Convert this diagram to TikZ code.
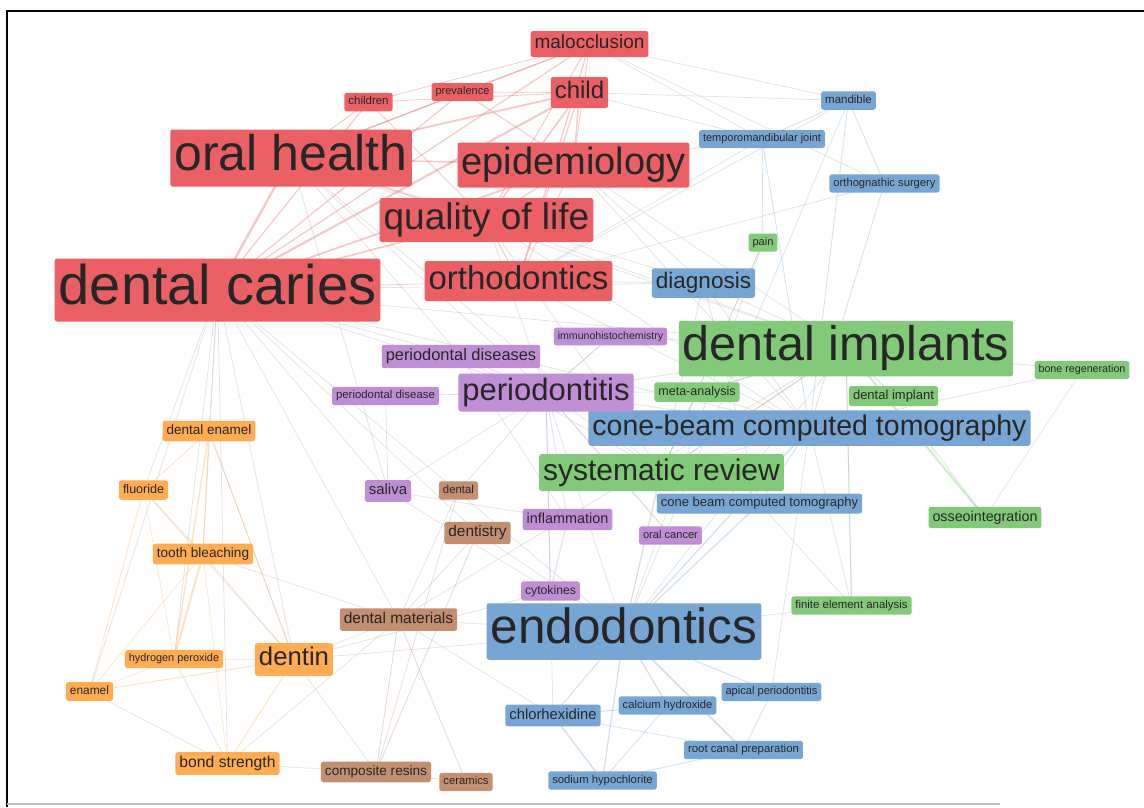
\documentclass[tikz,border=0pt]{standalone}
\usepackage{fontspec}
\setmainfont{Liberation Sans}
\usepackage{tikz}
\pgfdeclarelayer{bg}
\pgfsetlayers{bg,main}
\definecolor{kwred}{RGB}{234,96,100}
\definecolor{kwblue}{RGB}{120,166,212}
\definecolor{kwgreen}{RGB}{130,201,122}
\definecolor{kwpurple}{RGB}{192,142,212}
\definecolor{kworange}{RGB}{255,172,82}
\definecolor{kwbrown}{RGB}{196,142,112}
\newcommand{\kwsize}[1]{\fontsize{#1}{#1}\selectfont}

\begin{document}
\begin{tikzpicture}[x=1pt, y=-1pt,
    term/.style={rounded corners=2.5pt, inner xsep=4pt, inner ysep=3.5pt,
      text=black!85},
    kwfs/.style={font=\kwsize{#1}, text height=\dimexpr #1pt*3/4\relax,
      text depth=\dimexpr #1pt/4\relax},
    red term/.style={term, fill=kwred},
    blue term/.style={term, fill=kwblue},
    green term/.style={term, fill=kwgreen},
    purple term/.style={term, fill=kwpurple},
    orange term/.style={term, fill=kworange},
    brown term/.style={term, fill=kwbrown},
    link/.style={line cap=round, opacity=.35},
  ]
  \useasboundingbox (0,0) rectangle (1144,807);
  \draw[line width=1.3pt] (7,807) -- (7,11) -- (1144,11);
  \draw[black!25, line width=2pt] (7,804) -- (1000,804);

  % red cluster
  \node[red term, kwfs=19] (maloc) at (589.5,44) {malocclusion};
  \node[red term, kwfs=24] (child) at (579.5,92.5) {child};
  \node[red term, kwfs=11] (preval) at (462.5,92) {prevalence};
  \node[red term, kwfs=11.5] (children) at (368.5,102) {children};
  \node[red term, kwfs=50] (oralh) at (291,158) {oral health};
  \node[red term, kwfs=38] (epid) at (573.5,165) {epidemiology};
  \node[red term, kwfs=37] (qol) at (486.5,220) {quality of life};
  \node[red term, kwfs=56] (caries) at (217.5,290) {dental caries};
  \node[red term, kwfs=33] (ortho) at (518.5,281) {orthodontics};

  % blue cluster
  \node[blue term, kwfs=11.5] (mand) at (848.5,100.5) {mandible};
  \node[blue term, kwfs=11] (tmj) at (762,139) {temporomandibular joint};
  \node[blue term, kwfs=11.2] (orthog) at (884.5,183.5) {orthognathic surgery};
  \node[blue term, kwfs=22.5] (diag) at (703.5,283) {diagnosis};
  \node[blue term, kwfs=28.5] (cbct) at (809.5,428) {cone-beam computed tomography};
  \node[blue term, kwfs=13] (cbctb) at (759.5,503.5) {cone beam computed tomography};
  \node[blue term, kwfs=49.5] (endo) at (624,631.5) {endodontics};
  \node[blue term, kwfs=14.8] (chlx) at (553,715.5) {chlorhexidine};
  \node[blue term, kwfs=11.2] (caoh) at (667.5,705.5) {calcium hydroxide};
  \node[blue term, kwfs=11.1] (apical) at (771.5,692) {apical periodontitis};
  \node[blue term, kwfs=11.4] (rcp) at (743.5,750) {root canal preparation};
  \node[blue term, kwfs=11.3] (naocl) at (602.5,780.5) {sodium hypochlorite};

  % green cluster
  \node[green term, kwfs=11] (pain) at (763,242.5) {pain};
  \node[green term, kwfs=48.5] (implants) at (846,348.5) {dental implants};
  \node[green term, kwfs=10.7] (boneregen) at (1082,370) {bone regeneration};
  \node[green term, kwfs=12.5] (meta) at (697,392) {meta-analysis};
  \node[green term, kwfs=13] (implant) at (893.5,396) {dental implant};
  \node[green term, kwfs=30] (sysrev) at (661.5,472.5) {systematic review};
  \node[green term, kwfs=14.3] (osseo) at (985,517.5) {osseointegration};
  \node[green term, kwfs=11.4] (fea) at (851.5,605.5) {finite element analysis};

  % purple cluster
  \node[purple term, kwfs=10.6] (immuno) at (610.5,336.5) {immunohistochemistry};
  \node[purple term, kwfs=16.4] (perdis) at (461,356.5) {periodontal diseases};
  \node[purple term, kwfs=11.4] (perdisa) at (385.5,396) {periodontal disease};
  \node[purple term, kwfs=31] (perio) at (546,392.5) {periodontitis};
  \node[purple term, kwfs=14.9] (saliva) at (388,491) {saliva};
  \node[purple term, kwfs=14.4] (inflam) at (567.5,519.5) {inflammation};
  \node[purple term, kwfs=11.1] (oralca) at (670.5,535.5) {oral cancer};
  \node[purple term, kwfs=12.2] (cyto) at (550.5,591) {cytokines};

  % brown cluster
  \node[brown term, kwfs=11.4] (dental) at (458.5,490.5) {dental};
  \node[brown term, kwfs=15.4] (dentistry) at (477.5,533) {dentistry};
  \node[brown term, kwfs=15.5] (dentmat) at (398.5,619.5) {dental materials};
  \node[brown term, kwfs=13.6] (resins) at (376,772) {composite resins};
  \node[brown term, kwfs=11.3] (ceram) at (466,782) {ceramics};

  % orange cluster
  \node[orange term, kwfs=13.5] (denenam) at (209,431) {dental enamel};
  \node[orange term, kwfs=12.5] (fluor) at (143.5,490) {fluoride};
  \node[orange term, kwfs=13.6] (bleach) at (203,554) {tooth bleaching};
  \node[orange term, kwfs=25.7] (dentin) at (294,659.5) {dentin};
  \node[orange term, kwfs=10.9] (hperox) at (174,659) {hydrogen peroxide};
  \node[orange term, kwfs=11.9] (enamel) at (89.5,691.5) {enamel};
  \node[orange term, kwfs=15.7] (bond) at (227.5,763.5) {bond strength};

  \begin{pgfonlayer}{bg}
    % faint links between clusters
    \foreach \a/\b in {caries/denenam, caries/fluor, caries/bleach, caries/dentin,
      caries/enamel, caries/hperox, caries/perio, caries/perdis, caries/endo,
      caries/dentmat, caries/diag, caries/implants, caries/cbct, caries/saliva,
      caries/dentistry, caries/bond, oralh/perio, oralh/perdis, oralh/implants,
      oralh/diag, oralh/saliva, oralh/sysrev, qol/implants, qol/cbct, qol/sysrev,
      qol/perio, ortho/cbct, ortho/diag, ortho/mand, ortho/tmj, ortho/orthog,
      maloc/tmj, maloc/mand, maloc/orthog, child/tmj, child/mand, epid/implants,
      epid/diag, epid/cbct, epid/tmj, diag/cbct, diag/implants, diag/endo,
      perio/implants, perio/sysrev, perio/endo, perio/cbct, perdis/sysrev,
      perdisa/saliva, sysrev/endo, sysrev/implants, sysrev/cbct, implants/endo,
      denenam/dentin, dentin/dentmat, dentin/endo, dentin/resins, dentin/cyto,
      dentmat/endo, dentmat/implants, fluor/dentin, bleach/dentmat, bond/dentmat,
      bond/resins, endo/fea, cbct/fea, cbctb/fea, implants/fea, cbct/boneregen,
      meta/implants, meta/cbct, oralca/perio, immuno/implants, immuno/perio,
      saliva/inflam, dental/dentmat, dental/perio, dentistry/endo, chlx/perio,
      chlx/dentmat, enamel/bond, hperox/bond, endo/pain, sysrev/pain}
      \draw[link, black!30, line width=.8pt] (\a.center) -- (\b.center);

    % red links
    \foreach \a/\b/\w in {caries/child/2.2, caries/oralh/2.4, caries/maloc/1.2,
      caries/epid/1.8, caries/qol/1.6, caries/preval/1.2, caries/children/1.2,
      caries/ortho/.8, oralh/child/1.8, oralh/maloc/1.2, oralh/epid/1.6,
      oralh/qol/1.6, oralh/preval/1, oralh/children/1, child/epid/1.4,
      child/qol/1.6, child/ortho/1.2, child/preval/.8, child/children/.8,
      maloc/ortho/1.2, maloc/qol/1, maloc/epid/.8, maloc/preval/.8,
      maloc/children/.8, preval/epid/1, children/qol/.8, epid/qol/1.2,
      ortho/qol/1, ortho/epid/.8}
      \draw[link, kwred, line width=\w pt] (\a.center) -- (\b.center);

    % orange links
    \foreach \a/\b/\w in {denenam/fluor/.8, denenam/bleach/1, denenam/hperox/1.4,
      denenam/dentin/.8, fluor/enamel/.8, fluor/bleach/.8, fluor/hperox/.6,
      bleach/hperox/2, bleach/dentin/.8, bleach/enamel/.6, dentin/enamel/1,
      dentin/bond/1, dentin/hperox/.6, hperox/enamel/.6, bleach/bond/.6}
      \draw[link, kworange, line width=\w pt] (\a.center) -- (\b.center);

    % blue links
    \foreach \a/\b/\w in {endo/chlx/1, endo/caoh/1.2, endo/rcp/1.8,
      endo/apical/1, endo/naocl/1.2, endo/cbctb/1.2, endo/cbct/1.2,
      chlx/naocl/1.4, chlx/caoh/1, naocl/caoh/.8, rcp/apical/.8, rcp/naocl/.8,
      chlx/rcp/.6, mand/orthog/.8, mand/tmj/.8, mand/cbct/.8, mand/endo/.6,
      tmj/cbct/.8, tmj/pain/.8, orthog/cbct/.8, diag/cbctb/.6, cbct/cbctb/.8,
      apical/cbct/.6}
      \draw[link, kwblue, line width=\w pt] (\a.center) -- (\b.center);

    % green links
    \foreach \a/\b/\w in {implants/osseo/2.2, implants/fea/1, implants/implant/1,
      implants/boneregen/.8, implants/sysrev/1, implants/meta/.8,
      sysrev/meta/1.2, osseo/boneregen/.6, implant/osseo/.8, pain/sysrev/.6,
      meta/perio/.6}
      \draw[link, kwgreen, line width=\w pt] (\a.center) -- (\b.center);

    % purple links
    \foreach \a/\b/\w in {perio/perdisa/.8, perio/inflam/.8, perio/cyto/1,
      inflam/cyto/1, perio/perdis/.8, perio/saliva/.6, perio/oralca/.6,
      perio/immuno/.6, perdis/inflam/.6, cyto/saliva/.6}
      \draw[link, kwpurple, line width=\w pt] (\a.center) -- (\b.center);

    % brown links
    \foreach \a/\b/\w in {dentmat/resins/.8, dentmat/ceram/.8, dentistry/resins/.8,
      dental/resins/.6, resins/ceram/.6, dentistry/dentmat/.6}
      \draw[link, kwbrown, line width=\w pt] (\a.center) -- (\b.center);
  \end{pgfonlayer}
\end{tikzpicture}
\end{document}
